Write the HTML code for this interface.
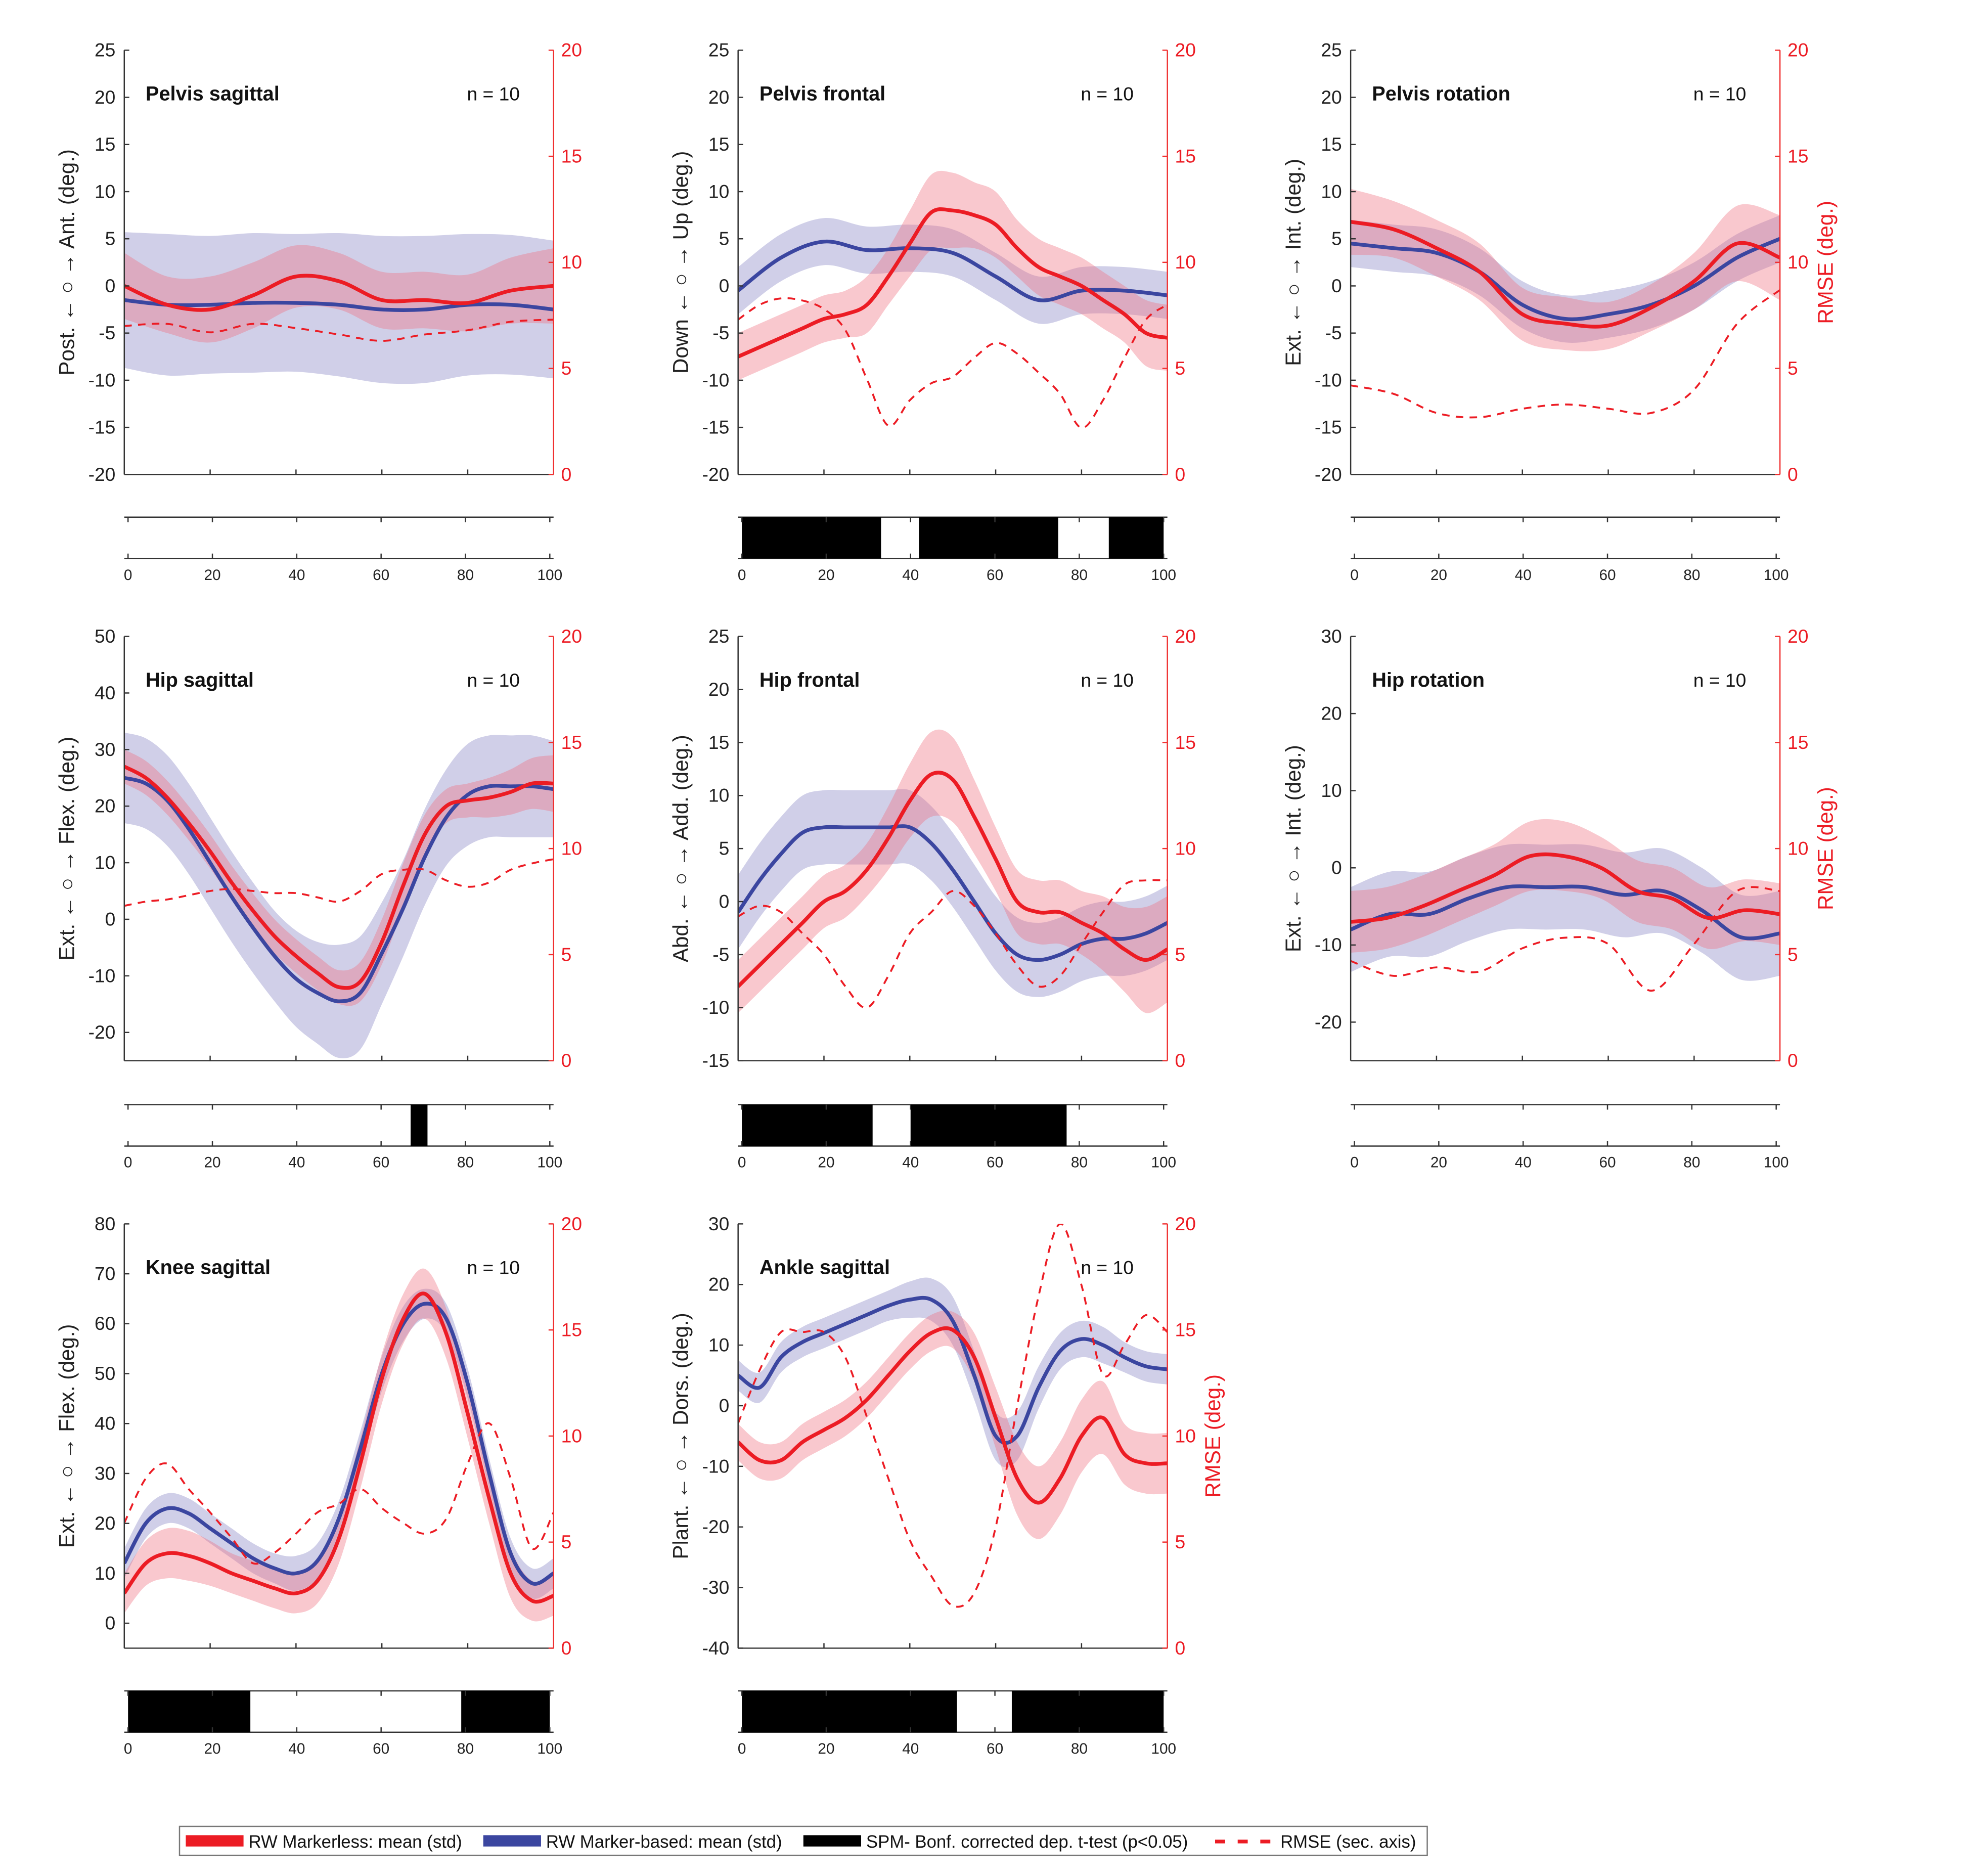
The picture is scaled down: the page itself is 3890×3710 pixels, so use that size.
<!DOCTYPE html>
<html><head><meta charset="utf-8"><style>
html,body{margin:0;padding:0;background:#fff;}
svg{display:block;font-family:"Liberation Sans",sans-serif;}
</style></head><body>
<svg id="fig" width="3890" height="3710" viewBox="0 0 1567 1494.5" xmlns="http://www.w3.org/2000/svg"></svg>
<script>
// ---- data (x evenly spaced 0..100 across each array) ----
const p1Red=[0,-2,-2.5,-1,1,0.5,-1.5,-1.5,-1.8,-0.5,0];
const p1RedSd=[3.5,3,3.5,3.5,3.3,3,3,3,3,3.5,4];
const p1Blue=[-1.5,-2,-2,-1.8,-1.8,-2,-2.5,-2.5,-2,-2,-2.5];
const p1BlueSd=[7.2,7.5,7.3,7.4,7.3,7.6,7.8,7.8,7.5,7.4,7.3];
const p1Rmse=[7.0,7.1,6.7,7.1,6.9,6.6,6.3,6.6,6.8,7.2,7.3];
const p1Spm=[];

const p2Red=[-7.5,-6.5,-5.5,-4.5,-3.5,-3,-2,1,4.5,7.8,8,7.5,6.5,4,2,1,0,-1.5,-3,-5,-5.5];
const p2RedSd=[2.5,2.5,2.5,2.5,2.5,2.5,3,3,3.5,4,4,3.5,3.5,3,3,3,3,3,3,3.5,3.5];
const p2Blue=[-0.5,3,4.7,3.8,4,3.5,1,-1.5,-0.5,-0.5,-1];
const p2BlueSd=[2.5,2.5,2.5,2.5,2.5,2.5,2.5,2.5,2.5,2.5,2.5];
const p2Rmse=[7.3,8.0,8.3,8.2,7.8,6.8,4.5,2.3,3.5,4.3,4.6,5.5,6.2,5.7,4.8,3.8,2.2,3.5,5.5,7.3,8.0];
const p2Spm=[[0,33],[42,75],[87,100]];

const p3Red=[6.8,6,4,1.5,-3,-4,-4.2,-2.3,0.5,4.5,3];
const p3RedSd=[3.5,3,3,3,2.8,2.8,2.5,2.5,3,4,4.5];
const p3Blue=[4.5,4,3.5,1.5,-2,-3.5,-3,-2,0,3,5];
const p3BlueSd=[2.5,2.5,2.5,2.5,2.5,2.5,2.5,2.5,2.5,2.5,2.5];
const p3Rmse=[4.2,3.8,2.9,2.7,3.1,3.3,3.1,2.9,4.0,7.1,8.7];
const p3Spm=[];

const p4Red=[27,25,21.5,17,12,6.5,1.5,-3,-6.5,-9.5,-12,-11,-4,6,15,20,21,21.5,22.5,24,24];
const p4RedSd=[3,3,3,3,3,3,3,3,3,3,3,3.5,4,4,3.5,3,3,3.5,4,4.5,5];
const p4Blue=[25,24,21,16,10,4,-1.5,-6.5,-10.5,-13,-14.5,-13,-6,2,11,18,22,23.5,23.5,23.5,23];
const p4BlueSd=[8,8,8,8,8,8,8,8,8.5,9,10,10,9,8.5,8.5,8.5,9,9,9,9,8.5];
const p4Rmse=[7.3,7.5,7.6,7.8,8.0,8.1,8.0,7.9,7.9,7.7,7.5,8.0,8.8,9.0,9.0,8.5,8.2,8.4,9.0,9.3,9.5];
const p4Spm=[[67,71]];

const p5Red=[-8,-6,-4,-2,0,1,3,6,9.5,12,11.5,8,4,0,-1,-1,-2,-3,-4.5,-5.5,-4.5];
const p5RedSd=[2.5,2.5,2.5,2.5,2.5,2.5,2.5,3,3.5,4,4,3.5,3,3,3,3,3,3.5,4,5,5];
const p5Blue=[-1,2,4.5,6.5,7,7,7,7,7,5.5,3,0,-3,-5,-5.5,-5,-4,-3.5,-3.5,-3,-2];
const p5BlueSd=[3.5,3.5,3.5,3.5,3.5,3.5,3.5,3.5,3.5,3.5,3.5,3.5,3.5,3.5,3.5,3.5,3.5,3.5,3.5,3.5,3.5];
const p5Rmse=[6.8,7.3,7.0,6.0,5.0,3.5,2.5,4.0,6.0,7.0,8.0,7.3,6.0,4.5,3.5,4.0,5.5,7.0,8.3,8.5,8.5];
const p5Spm=[[0,31],[40,77]];

const p6Red=[-7,-6.5,-5,-3,-1,1.5,1.5,0,-3,-4,-6.5,-5.5,-6];
const p6RedSd=[4,4,4,4,4,4.5,4.5,4,4,4,4,4,4];
const p6Blue=[-8,-6,-6,-4,-2.5,-2.5,-2.5,-3.5,-3,-5.5,-9,-8.5];
const p6BlueSd=[5.5,5.5,5.5,5.5,5.5,5.5,5.5,5.5,5.5,5.5,5.5,5.5];
const p6Rmse=[4.7,4.0,4.4,4.2,5.3,5.8,5.5,3.3,5.5,8.0,8.0];
const p6Spm=[];

const p7Red=[6,12,14,13.5,12,10,8.5,7,6,8.5,17,32,49,61,66,58,42,25,10,4.5,5.5];
const p7RedSd=[4,4.5,5,5,4.5,4,4,4,4,4.5,5,5,5,5,5,5,5,5,5,4,4];
const p7Blue=[12,20,23,22,19,16,13,11,10,12.5,21,35,50,60,64,61,48,30,14,8,10];
const p7BlueSd=[3,3,3,3,3,3,3,3,3.5,3.5,3.5,3.5,3.5,3.5,3,3,3,3,3,3,3];
const p7Rmse=[5.9,8.0,8.7,7.5,6.4,5.2,4.0,4.5,5.4,6.4,6.8,7.5,6.6,5.9,5.4,6.1,8.7,10.6,8.0,4.7,6.4];
const p7Spm=[[0,29],[79,100]];

const p8Red=[-6,-9,-9,-6,-4,-2,1,5,9,12,12.5,8,-2,-12,-16,-12,-5,-2,-8,-9.5,-9.5];
const p8RedSd=[3,3,3,3,3,3,3,3,3,3,3,4,5,6,6,6,6,6,5,5,5];
const p8Blue=[5,3,8,10.5,12,13.5,15,16.5,17.5,17.5,14,5,-5,-5,3,9,11,10,8,6.5,6];
const p8BlueSd=[2.5,2.5,2.5,2.5,2.5,2.5,2.5,2.5,3,3.5,4,4,4,4,3.5,3,3,3,2.5,2.5,2.5];
const p8Rmse=[10.6,13.1,14.9,14.9,14.9,13.7,10.9,8.0,5.1,3.4,2.0,2.6,5.7,11.4,16.6,20.0,17.1,12.9,14.3,15.7,14.9];
const p8Spm=[[0,51],[64,100]];

const xTicks=[0,20,40,60,80,100];
const rTicks=[0,5,10,15,20];

const svg=document.getElementById('fig');
const NS='http://www.w3.org/2000/svg';
function el(tag,attrs,parent,text){const e=document.createElementNS(NS,tag);for(const k in attrs)e.setAttribute(k,attrs[k]);if(text!==undefined)e.textContent=text;(parent||svg).appendChild(e);return e;}

function smooth(pts){
  let d='M'+pts[0][0].toFixed(2)+','+pts[0][1].toFixed(2);
  for(let i=0;i<pts.length-1;i++){
    const p0=pts[Math.max(0,i-1)],p1=pts[i],p2=pts[i+1],p3=pts[Math.min(pts.length-1,i+2)];
    const c1=[p1[0]+(p2[0]-p0[0])/6,p1[1]+(p2[1]-p0[1])/6];
    const c2=[p2[0]-(p3[0]-p1[0])/6,p2[1]-(p3[1]-p1[1])/6];
    d+='C'+c1[0].toFixed(2)+','+c1[1].toFixed(2)+' '+c2[0].toFixed(2)+','+c2[1].toFixed(2)+' '+p2[0].toFixed(2)+','+p2[1].toFixed(2);
  }
  return d;
}

const cols=[99,588,1076], W=342;
const rows=[{t:40,b:378,bt:412,bb:445,lab:462},{t:507,b:845,bt:880,bb:913,lab:930},{t:975,b:1313,bt:1347,bb:1380,lab:1397}];

const panels=[
 {c:0,r:0,title:'Pelvis sagittal',ylab:'Post. \u2190 \u25CB \u2192 Ant. (deg.)',ymin:-20,ymax:25,ticks:[-20,-15,-10,-5,0,5,10,15,20,25],red:p1Red,redSd:p1RedSd,blue:p1Blue,blueSd:p1BlueSd,rmse:p1Rmse,spm:p1Spm,rl:false},
 {c:1,r:0,title:'Pelvis frontal',ylab:'Down \u2190 \u25CB \u2192 Up  (deg.)',ymin:-20,ymax:25,ticks:[-20,-15,-10,-5,0,5,10,15,20,25],red:p2Red,redSd:p2RedSd,blue:p2Blue,blueSd:p2BlueSd,rmse:p2Rmse,spm:p2Spm,rl:false},
 {c:2,r:0,title:'Pelvis rotation',ylab:'Ext. \u2190 \u25CB \u2192 Int.  (deg.)',ymin:-20,ymax:25,ticks:[-20,-15,-10,-5,0,5,10,15,20,25],red:p3Red,redSd:p3RedSd,blue:p3Blue,blueSd:p3BlueSd,rmse:p3Rmse,spm:p3Spm,rl:true},
 {c:0,r:1,title:'Hip sagittal',ylab:'Ext. \u2190 \u25CB \u2192 Flex. (deg.)',ymin:-25,ymax:50,ticks:[-20,-10,0,10,20,30,40,50],red:p4Red,redSd:p4RedSd,blue:p4Blue,blueSd:p4BlueSd,rmse:p4Rmse,spm:p4Spm,rl:false},
 {c:1,r:1,title:'Hip frontal',ylab:'Abd. \u2190 \u25CB \u2192 Add. (deg.)',ymin:-15,ymax:25,ticks:[-15,-10,-5,0,5,10,15,20,25],red:p5Red,redSd:p5RedSd,blue:p5Blue,blueSd:p5BlueSd,rmse:p5Rmse,spm:p5Spm,rl:false},
 {c:2,r:1,title:'Hip rotation',ylab:'Ext. \u2190 \u25CB \u2192 Int. (deg.)',ymin:-25,ymax:30,ticks:[-20,-10,0,10,20,30],red:p6Red,redSd:p6RedSd,blue:p6Blue,blueSd:p6BlueSd,rmse:p6Rmse,spm:p6Spm,rl:true},
 {c:0,r:2,title:'Knee sagittal',ylab:'Ext. \u2190 \u25CB \u2192 Flex. (deg.)',ymin:-5,ymax:80,ticks:[0,10,20,30,40,50,60,70,80],red:p7Red,redSd:p7RedSd,blue:p7Blue,blueSd:p7BlueSd,rmse:p7Rmse,spm:p7Spm,rl:false},
 {c:1,r:2,title:'Ankle sagittal',ylab:'Plant. \u2190 \u25CB \u2192 Dors. (deg.)',ymin:-40,ymax:30,ticks:[-40,-30,-20,-10,0,10,20,30],red:p8Red,redSd:p8RedSd,blue:p8Blue,blueSd:p8BlueSd,rmse:p8Rmse,spm:p8Spm,rl:true}
];

panels.forEach((p,pi)=>{
  const L=cols[p.c],R=L+W,row=rows[p.r],T=row.t,B=row.b;
  const g=el('g',{});
  
  
  const xs=v=>L+v/100*W;
  const ys=v=>B-(v-p.ymin)/(p.ymax-p.ymin)*(B-T);
  const yr=v=>B-v/20*(B-T);
  const pts=(arr,f)=>arr.map((v,i)=>[xs(i*100/(arr.length-1)),f(v)]);
  const band=(m,s)=>{const up=pts(m.map((v,i)=>v+s[i]),ys),lo=pts(m.map((v,i)=>v-s[i]),ys).reverse();
    return smooth(up)+'L'+lo[0][0]+','+lo[0][1]+smooth(lo).slice(1).replace(/^[^C]*/,'')+'Z';};
  const cp=el('clipPath',{id:'clip'+pi},g);el('rect',{x:L,y:T,width:W,height:B-T},cp);
  const plot=el('g',{'clip-path':'url(#clip'+pi+')'},g);
  const bb=el('path',{d:band(p.blue,p.blueSd),fill:'rgb(150,148,205)','fill-opacity':0.45},plot);
  
  
  const rb=el('path',{d:band(p.red,p.redSd),fill:'rgb(240,110,125)','fill-opacity':0.38},plot);
  
  
  const bl=el('path',{d:smooth(pts(p.blue,ys)),fill:'none',stroke:'#3b46a0','stroke-width':3},plot);
  
  
  const rl=el('path',{d:smooth(pts(p.red,ys)),fill:'none',stroke:'#ec1c24','stroke-width':3},plot);
  
  
  const rm=el('path',{d:smooth(pts(p.rmse,yr)),fill:'none',stroke:'#ec1c24','stroke-width':1.5,'stroke-dasharray':'6,5'},plot);
  
  
  el('line',{x1:L,y1:T,x2:L,y2:B,stroke:'#333','stroke-width':1},g);
  el('line',{x1:L,y1:B,x2:R,y2:B,stroke:'#333','stroke-width':1},g);
  el('line',{x1:R,y1:T,x2:R,y2:B,stroke:'#f03030','stroke-width':1},g);
  p.ticks.forEach(t=>{const y=ys(t);
    el('line',{x1:L,y1:y,x2:L+4,y2:y,stroke:'#333'},g);
    const tx=el('text',{x:L-7,y:y+5,'font-size':15,'text-anchor':'end',fill:'#222'},g,String(t));
    
    
  });
  rTicks.forEach(t=>{const y=yr(t);
    el('line',{x1:R,y1:y,x2:R-4,y2:y,stroke:'#f03030'},g);
    const tx=el('text',{x:R+6,y:y+5,'font-size':15,fill:'#ec1c24'},g,String(t));
    
    
  });
  [20,40,60,80].forEach(t=>el('line',{x1:xs(t),y1:B,x2:xs(t),y2:B-4,stroke:'#333'},g));
  const yl=el('text',{x:0,y:0,'font-size':17,'text-anchor':'middle',fill:'#222',transform:'translate('+(L-40)+','+((T+B)/2)+') rotate(-90)'},g,p.ylab);
  
  
  if(p.rl){const t2=el('text',{x:0,y:0,'font-size':17,'text-anchor':'middle',fill:'#ec1c24',transform:'translate('+(R+42)+','+((T+B)/2)+') rotate(-90)'},g,'RMSE (deg.)');
    
    }
  const ti=el('text',{x:L+17,y:T+40,'font-size':16,'font-weight':'bold',fill:'#111'},g,p.title);
  
  
  const nn=el('text',{x:L+273,y:T+40,'font-size':15,fill:'#111'},g,'n = 10');
  
  
  const bL=L+3,bR=R-3,bx=v=>bL+v/100*(bR-bL);
  el('line',{x1:L,y1:row.bt,x2:R,y2:row.bt,stroke:'#333'},g);
  el('line',{x1:L,y1:row.bb,x2:R,y2:row.bb,stroke:'#333'},g);
  p.spm.forEach(s=>{const r=el('rect',{x:bx(s[0]),y:row.bt,width:bx(s[1])-bx(s[0]),height:row.bb-row.bt,fill:'#000'},g);
    
    });
  xTicks.forEach(t=>{
    el('line',{x1:bx(t),y1:row.bt,x2:bx(t),y2:row.bt+4,stroke:'#333'},g);
    el('line',{x1:bx(t),y1:row.bb,x2:bx(t),y2:row.bb-4,stroke:'#333'},g);
    const tx=el('text',{x:bx(t),y:row.lab,'font-size':12,'text-anchor':'middle',fill:'#222'},g,String(t));
    
    
  });
});

const lg=el('g',{});


el('rect',{x:143,y:1455,width:994,height:23,fill:'#fff',stroke:'#777','stroke-width':1},lg);
const items=[[148,'#ec1c24','RW Markerless: mean (std)',false],[385,'#3b46a0','RW Marker-based: mean (std)',false],[640,'#000','SPM- Bonf. corrected dep. t-test (p<0.05)',false],[968,'#ec1c24','RMSE (sec. axis)',true]];
items.forEach(it=>{
  const e=el('g',{},lg);
  
  
  if(it[3]){el('line',{x1:it[0],y1:1467,x2:it[0]+44,y2:1467,stroke:it[1],'stroke-width':3,'stroke-dasharray':'8,10'},e);}
  else el('rect',{x:it[0],y:1462,width:46,height:9,fill:it[1]},e);
  el('text',{x:it[0]+(it[3]?52:50),y:1472,'font-size':14,fill:'#111'},e,it[2]);
});
</script>
</body></html>
